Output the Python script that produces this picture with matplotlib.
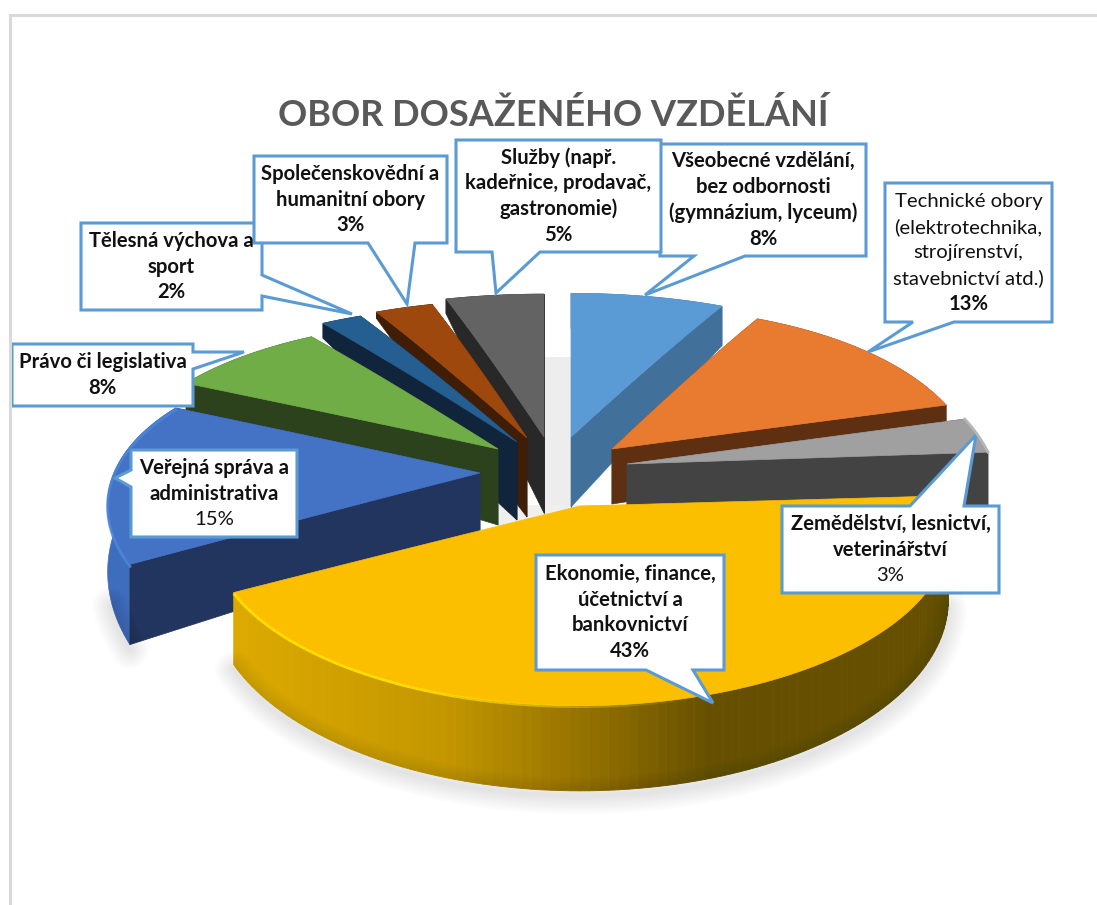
import numpy as np
import matplotlib
matplotlib.use('Agg')
import matplotlib.pyplot as plt
from matplotlib.patches import Polygon, Rectangle
from matplotlib.collections import PolyCollection, LineCollection
from matplotlib.colors import LinearSegmentedColormap

plt.rcParams['font.family'] = ['Lato', 'DejaVu Sans']

# Data
title = 'OBOR DOSAŽENÉHO VZDĚLÁNÍ'
categories = ['Všeobecné vzdělání,\nbez odbornosti\n(gymnázium, lyceum)',
              'Technické obory\n(elektrotechnika,\nstrojírenství,\nstavebnictví atd.)',
              'Zemědělství, lesnictví,\nveterinářství',
              'Ekonomie, finance,\núčetnictví a\nbankovnictví',
              'Veřejná správa a\nadministrativa',
              'Právo či legislativa',
              'Tělesná výchova a\nsport',
              'Společenskovědní a\nhumanitní obory',
              'Služby (např.\nkadeřnice, prodavač,\ngastronomie)']
values = [8, 13, 3, 43, 15, 8, 2, 3, 5]

# Slice styling
top_colors = ['#5B9BD5', '#E97B30', '#A0A0A0', '#FBBF00', '#4472C4', '#70AD47', '#255E91', '#9E480E', '#636363']
cut_colors = ['#41709A', '#5F2F12', '#434343', '#8A6A00', '#21355E', '#2C421C', '#10243C', '#3F1D06', '#282828']
rim_colors = ['#41709A', '#5F2F12', '#434343', '#8A6A00', '#3F6DBE', '#2C421C', '#10243C', '#3F1D06', '#282828']

# exploded tip of each slice in pixels, radii, depth and how depth shrinks to the back
tip_x = [571, 612, 627, 580, 480, 498, 517, 527, 544]
tip_y = [437, 449, 464, 506, 473, 449, 442, 438, 437]
rad_x = [376, 362, 366, 362, 366, 375, 390, 375, 387]
rad_y = [189, 188, 192, 161, 170, 172, 182, 182, 188]
depth = [70, 55, 60, 60, 60, 76, 78, 79, 76]
depth_k = [0.5, 0.5, 0.1, 0.42, 0.7, 0.9, 1.0, 1.05, 0.85]
KX = 0.19
KY = 0.24

draw_order = [0, 1, 2, 8, 7, 6, 5, 4, 3]
left_group = [8, 7, 6, 5, 4]

edges = np.concatenate([[0], np.cumsum(values)]) / np.sum(values) * 2 * np.pi


def project(i, th, r):
    u = r * np.sin(th)
    v = r * np.cos(th)
    x = tip_x[i] + rad_x[i] * u * (1 - KX * v)
    y = tip_y[i] - rad_y[i] * v * (1 - KY * v)
    d = depth[i] * (1 - depth_k[i] * v)
    return x, y, y + d


def face(x, y1, y2):
    return np.column_stack([np.r_[x, x[::-1]], np.r_[y1, y2[::-1]]])


fig = plt.figure(figsize=(10.97, 9.05), dpi=100)
ax = fig.add_axes([0, 0, 1, 1])
ax.set_xlim(0, 1097)
ax.set_ylim(905, 0)
ax.axis('off')

# outer border of the chart area
ax.plot([9.5, 9.5, 1097], [905, 15, 15], color='#D9D9D9', lw=2.2, solid_joinstyle='miter')

# soft shadow below the front slices
for i in [3, 4]:
    th = np.linspace(edges[i], edges[i + 1], 150)
    x, y, yb = project(i, th, np.ones_like(th))
    keep = yb > 600
    for w in np.arange(3, 30, 3):
        ax.plot(x[keep], yb[keep] + 5, color='black', alpha=0.012, lw=w, solid_capstyle='round')

# light shadow in the gap
ax.add_patch(Rectangle((545, 357), 27, 155, fc='#EDEDED', ec='none'))
ax.add_patch(Rectangle((498, 505), 115, 28, fc='#EFEFEF', ec='none'))

gold = LinearSegmentedColormap.from_list('gold', [(0, '#DDAA00'), (0.3, '#C39600'), (0.5, '#927000'),
                                                  (0.66, '#665000'), (1, '#665000')])

for i in draw_order:
    th = np.linspace(edges[i], edges[i + 1], 120)
    rr = np.linspace(0, 1, 30)
    rx, ry, rb = project(i, th, np.ones_like(th))
    sx, sy, sb = project(i, np.full_like(rr, edges[i]), rr)
    ex, ey, eb = project(i, np.full_like(rr, edges[i + 1]), rr)
    start_cut = Polygon(face(sx, sy, sb), fc=cut_colors[i], ec=cut_colors[i], lw=0.5)
    end_cut = Polygon(face(ex, ey, eb), fc=cut_colors[i], ec=cut_colors[i], lw=0.5)
    first, last = (end_cut, start_cut) if i in left_group else (start_cut, end_cut)
    if i != 3:
        ax.add_patch(first)
    if i == 3:
        # gradient along the front wall of the big slice
        quads = [[(rx[k], ry[k]), (rx[k + 1], ry[k + 1]), (rx[k + 1], rb[k + 1]), (rx[k], rb[k])]
                 for k in range(len(rx) - 1)]
        shade = np.clip((rx[:-1] - 231) / 730, 0, 1)
        cols = gold(shade)
        ax.add_collection(PolyCollection(quads, facecolors=cols, edgecolors=cols, linewidths=0.6))
    else:
        ax.add_patch(Polygon(face(rx, ry, rb), fc=rim_colors[i], ec=rim_colors[i], lw=0.5))
    if i != 3:
        ax.add_patch(last)
    top = np.column_stack([np.r_[sx, rx, ex[::-1]], np.r_[sy, ry, ey[::-1]]])
    ax.add_patch(Polygon(top, fc=top_colors[i], ec=top_colors[i], lw=0.5))
    if i == 3:
        # highlight on the rim, fading out towards the middle
        pts = np.column_stack([rx, ry + 1])
        segs = np.stack([pts[:-1], pts[1:]], axis=1)
        fade = np.clip((700 - rx[:-1]) / 300, 0, 1)
        seg_cols = np.column_stack([np.ones_like(fade), np.full_like(fade, 0.87), np.zeros_like(fade), fade])
        ax.add_collection(LineCollection(segs, colors=seg_cols, linewidths=2))
    if i == 4:
        ax.plot(rx, ry + 2, color='#4A86D9', lw=2, alpha=0.9)
    if i == 2:
        ax.plot(rx, ry, color='#B5B5B5', lw=2)

# Callouts: box left, top, right, bottom, then pointer base and tip
box_left = [660, 885, 782, 536, 131, 12, 81, 254, 456]
box_top = [144, 183, 506, 555, 450, 344, 223, 156, 140]
box_right = [866, 1052, 999, 724, 297, 193, 262, 447, 661]
box_bottom = [256, 322, 593, 670, 537, 406, 310, 243, 252]
pointer_side = ['bottom', 'bottom', 'top', 'bottom', 'left', 'right', 'right', 'bottom', 'bottom']
pointer_a = [694, 913, 910, 646, 470, 352, 275, 368, 492]
pointer_b = [745, 954, 964, 693, 487, 369, 296, 415, 540]
pointer_tip = [(645, 295), (868, 352), (976, 435), (713, 703), (115, 478),
               (244, 352), (352, 314), (407, 304), (496, 293)]
line_bold = [[1, 1, 1, 1], [0, 0, 0, 0, 1], [1, 1, 0], [1, 1, 1, 1], [1, 1, 0],
             [1, 1], [1, 1, 1], [1, 1, 1], [1, 1, 1, 1]]
box_order = [0, 8, 1, 2, 3, 4, 6, 7, 5]
EDGE = '#5B9BD5'


def callout(i):
    l, t, r, b = box_left[i], box_top[i], box_right[i], box_bottom[i]
    a, c, tip = pointer_a[i], pointer_b[i], pointer_tip[i]
    side = pointer_side[i]
    if side == 'bottom':
        return [(l, t), (r, t), (r, b), (c, b), tip, (a, b), (l, b)]
    if side == 'top':
        return [(l, t), (a, t), tip, (c, t), (r, t), (r, b), (l, b)]
    if side == 'left':
        return [(l, t), (r, t), (r, b), (l, b), (l, c), tip, (l, a)]
    return [(l, t), (r, t), (r, a), tip, (r, c), (r, b), (l, b)]


for i in box_order:
    ax.add_patch(Polygon(callout(i), closed=True, fc='white', ec=EDGE, lw=2.2, joinstyle='miter'))
    lines = categories[i].split('\n') + ['%d%%' % values[i]]
    cx = (box_left[i] + box_right[i]) / 2
    cy = (box_top[i] + box_bottom[i]) / 2
    for n, line in enumerate(lines):
        yy = cy + (n - (len(lines) - 1) / 2) * 25.7
        ax.text(cx, yy, line, ha='center', va='center', fontsize=14.6, color='#111111',
                fontweight='bold' if line_bold[i][n] else 'normal')

ax.text(553, 115, title, ha='center', va='center', fontsize=26, fontweight='bold', color='#595959')

fig.savefig('out.png', dpi=100)
